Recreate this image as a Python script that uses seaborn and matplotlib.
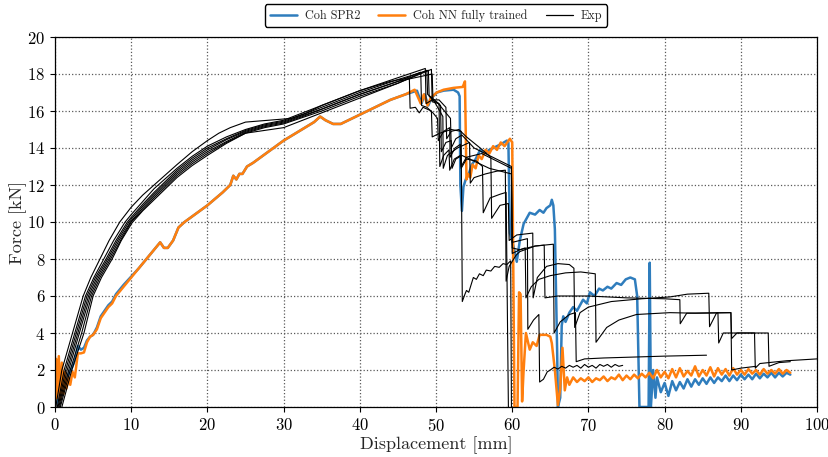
import matplotlib
matplotlib.use("Agg")
import matplotlib.pyplot as plt
import seaborn as sns
from matplotlib.lines import Line2D

# ---------------- data ----------------
x_ticks = [0, 10, 20, 30, 40, 50, 60, 70, 80, 90, 100]
y_ticks = [0, 2, 4, 6, 8, 10, 12, 14, 16, 18, 20]
legend_labels = ["Coh SPR2", "Coh NN fully trained", "Exp"]

orange_main = [(0, 0), (0.15, 2.6), (0.3, 0.5), (0.5, 2.75), (0.7, 0.4), (0.9, 2.4), (1.1, 0.7), (1.3, 1.9),
               (1.5, 1.0), (1.8, 1.6), (2.0, 1.2), (2.3, 1.9), (2.6, 1.6), (3.0, 2.9), (3.4, 2.9), (3.8, 2.95),
               (4.2, 3.5), (4.6, 3.8), (5.0, 3.9), (5.5, 4.2), (6.0, 4.8), (6.5, 5.1), (7.0, 5.4), (7.5, 5.6),
               (8.0, 6.0), (9.0, 6.5), (10, 7.0), (11, 7.5), (12, 8.0), (13, 8.5), (13.8, 8.9), (14.3, 8.6),
               (14.8, 8.6), (15.5, 9.0), (16.2, 9.7), (17, 10.0), (18, 10.3), (20, 10.9), (22, 11.6), (23, 12.0),
               (23.4, 12.5), (23.8, 12.3), (24.2, 12.6), (24.6, 12.6), (25.2, 13.0), (26, 13.2), (28, 13.8),
               (30, 14.4), (32, 14.9), (34, 15.4), (34.8, 15.7), (35.5, 15.5), (36.5, 15.3), (37.5, 15.3),
               (40, 15.8), (42, 16.2), (44, 16.6), (46, 16.9), (47.2, 17.15), (48.0, 16.4), (48.4, 16.9),
               (48.9, 16.3), (49.3, 16.7), (50.1, 17.0), (51, 17.15), (52.3, 17.25), (53.5, 17.3), (53.8, 17.6),
               (54.0, 12.3), (54.2, 12.6), (54.5, 12.4), (54.8, 13.1), (55.2, 12.9), (55.6, 13.6), (56.0, 13.4),
               (56.5, 13.9), (57.0, 13.7), (57.5, 14.1), (58.0, 13.9), (58.5, 14.3), (59.0, 14.1), (59.7, 14.5),
               (60.0, 14.3), (60.3, 0.0), (60.7, 0.0), (60.9, 6.2), (61.1, 6.1), (61.3, 0.3), (61.5, 2.0),
               (61.8, 4.0), (62.3, 3.1), (62.7, 3.5), (63.2, 3.3), (63.6, 3.9), (64.5, 3.9), (65.0, 3.8),
               (65.2, 3.45), (65.6, 2.0), (66.0, 0.1), (66.3, 1.0), (66.6, 3.2), (66.9, 0.9), (67.2, 1.6)]
orange_tail_x = [67.5 + 0.5 * i for i in range(59)]
orange_tail_y = [1.2, 1.6, 1.35, 1.55, 1.4, 1.6, 1.35, 1.55, 1.45, 1.65, 1.4, 1.6, 1.5, 1.75, 1.45, 1.7,
                 1.5, 1.75, 1.55, 1.8, 1.6, 1.85, 1.55, 2.0, 1.6, 1.9, 1.55, 2.05, 1.6, 2.1, 1.65, 1.95,
                 1.7, 2.2, 1.65, 2.0, 1.7, 2.15, 1.65, 2.1, 1.75, 2.05, 1.7, 2.1, 1.75, 2.0, 1.75, 2.05,
                 1.8, 2.0, 1.75, 2.05, 1.8, 2.0, 1.8, 2.05, 1.8, 2.0, 1.85]

blue_main = [(0, 0), (0.3, 0.3), (0.6, 0.8), (1.0, 1.2), (1.4, 1.4), (1.8, 1.8), (2.2, 2.1), (2.6, 2.5),
             (3.0, 3.3), (3.4, 3.1), (3.8, 3.2), (4.2, 3.6), (4.6, 3.8), (5.0, 3.9), (5.5, 4.3), (6.0, 4.9),
             (6.5, 5.2), (7.0, 5.5), (7.5, 5.7), (8.0, 6.1), (9, 6.6), (10, 7.05), (11, 7.5), (12, 8.0),
             (13, 8.5), (13.8, 8.9), (14.3, 8.6), (14.8, 8.6), (15.5, 9.0), (16.2, 9.7), (17, 10.0),
             (18, 10.3), (20, 10.9), (22, 11.6), (23, 12.0), (23.4, 12.5), (23.8, 12.3), (24.2, 12.6),
             (24.6, 12.6), (25.2, 13.0), (26, 13.2), (28, 13.8), (30, 14.4), (32, 14.9), (34, 15.4),
             (34.8, 15.7), (35.5, 15.5), (36.5, 15.3), (37.5, 15.3), (40, 15.8), (42, 16.2), (44, 16.6),
             (46, 16.9), (47.5, 17.1), (48.1, 16.4), (48.5, 16.9), (49.0, 16.3), (49.4, 16.7), (50.1, 17.0),
             (51, 17.1), (52.3, 17.15), (52.9, 17.0), (53.1, 16.8), (53.2, 12.0), (53.4, 10.6), (53.6, 11.9),
             (53.9, 12.3), (54.3, 12.6), (54.7, 13.1), (55.2, 13.4), (55.8, 13.9), (56.3, 13.7), (57, 13.9),
             (57.5, 14.0), (58, 14.1), (58.5, 14.2), (59.3, 14.4), (59.5, 14.3), (59.7, 9.4), (60.0, 9.0),
             (60.6, 7.85), (61.0, 9.0), (61.5, 9.9), (62.3, 10.5), (63.0, 10.4), (63.6, 10.65), (64.1, 10.5),
             (64.5, 10.75), (65.0, 10.9), (65.2, 11.2), (65.4, 10.9), (65.6, 9.6), (65.9, 3.0), (66.0, 0.0),
             (66.3, 0.5), (66.5, 4.4), (66.7, 4.9), (67.0, 4.6), (67.5, 5.1), (68.0, 5.4), (68.5, 5.2),
             (69.3, 5.8), (69.8, 5.6), (70.2, 6.2), (70.8, 6.0), (71.4, 6.4), (71.9, 6.3), (72.5, 6.5),
             (73.0, 6.4), (73.7, 6.7), (74.3, 6.6), (74.9, 6.9), (75.5, 7.0), (76.1, 6.9), (76.4, 6.0),
             (76.7, 0.0), (77.9, 0.0), (78.05, 7.8), (78.2, 0.0), (78.5, 2.0), (78.8, 0.5)]
blue_tail_x = [79.0 + 0.5 * i for i in range(36)]
blue_tail_y = [1.6, 0.8, 1.3, 0.6, 1.4, 0.9, 1.35, 1.0, 1.5, 1.1, 1.5, 1.2, 1.55, 1.25, 1.6, 1.3,
               1.6, 1.4, 1.7, 1.4, 1.7, 1.45, 1.75, 1.5, 1.75, 1.5, 1.8, 1.55, 1.8, 1.6, 1.85, 1.6,
               1.85, 1.65, 1.85, 1.75]

exp1 = [(0.1, 0), (0.5, 1.0), (0.9, 2.0), (1.6, 3.0), (2.3, 4.0), (3.0, 5.0), (3.7, 6.0), (4.7, 7.0),
        (5.9, 8.0), (7.1, 9.0), (8.5, 10.0), (10, 10.8), (11.5, 11.45), (13, 12.0), (14.5, 12.55),
        (16, 13.1), (18, 13.8), (20, 14.4), (21.5, 14.8), (23, 15.1), (25, 15.4), (28, 15.5), (31, 15.6),
        (33, 15.9), (35, 16.3), (37.5, 16.7), (40, 17.1), (42, 17.35), (44, 17.6), (46.5, 17.8),
        (46.6, 16.15), (47.3, 16.2), (47.8, 15.9), (48.3, 16.2), (49.4, 16.0),
        (49.5, 14.6), (50.5, 14.8), (52.0, 15.0), (53.3, 14.9), (53.45, 5.7), (53.8, 6.1), (54.0, 6.3),
        (54.3, 6.2), (54.6, 6.6), (54.9, 7.0), (55.3, 6.9), (55.7, 7.2), (56.2, 7.1), (56.6, 7.4),
        (57.2, 7.35), (57.7, 7.6), (58.3, 7.55), (58.8, 7.75), (59.3, 7.7), (59.8, 7.9), (59.9, 0.0)]
exp2 = [(0.3, 0), (0.75, 1.0), (1.2, 2.0), (1.9, 3.0), (2.6, 4.0), (3.3, 5.0), (4.0, 6.0), (5.1, 7.0),
        (6.4, 8.0), (7.7, 9.0), (9.2, 10.0), (10, 10.4), (11.5, 11.1), (13, 11.8), (14.5, 12.35),
        (16, 12.9), (18, 13.55), (20, 14.1), (22.5, 14.6), (25, 15.0), (27.5, 15.3), (30, 15.5),
        (32.5, 15.9), (35, 16.3), (37.5, 16.7), (40, 17.1), (42.5, 17.45), (45, 17.8), (48.6, 18.3),
        (48.7, 16.4), (49.5, 16.6), (50.4, 16.4), (50.5, 13.0), (51.0, 13.6), (51.7, 13.9), (51.8, 12.8),
        (52.4, 13.4), (53.2, 13.6), (53.3, 12.9), (54.0, 13.4), (55.3, 13.3), (56.1, 13.0), (56.2, 10.5),
        (57.1, 11.3), (58.4, 11.5), (59.2, 11.6), (59.5, 0.0)]
exp3 = [(0.4, 0), (0.9, 1.0), (1.4, 2.0), (2.1, 3.0), (2.8, 4.0), (3.5, 5.0), (4.2, 6.0), (5.3, 7.0),
        (6.7, 8.0), (8.0, 9.0), (9.5, 10.0), (10, 10.25), (11.5, 10.95), (13, 11.6), (14.5, 12.2),
        (16, 12.8), (18, 13.45), (20, 14.0), (22.5, 14.5), (25, 14.95), (27.5, 15.25), (30, 15.45),
        (32.5, 15.8), (35, 16.2), (37.5, 16.6), (40, 17.0), (42.5, 17.35), (45, 17.7), (49.0, 18.2),
        (49.1, 16.8), (49.8, 16.5), (50.9, 15.7), (50.95, 12.9), (51.5, 13.6), (52.8, 14.0), (54.4, 14.3),
        (54.5, 12.1), (55.0, 12.4), (56.5, 12.6), (58.0, 12.75), (59.1, 12.8), (59.2, 6.8), (59.6, 7.6),
        (60.5, 8.2), (61.0, 8.4), (63.0, 8.7), (64.2, 8.75), (64.3, 5.9), (66, 6.0), (70, 6.0), (75, 5.9),
        (80, 5.85), (82, 5.8), (82.05, 4.5), (82.9, 5.07), (88.7, 5.1), (88.8, 3.7), (89.5, 4.0),
        (93.6, 4.0), (93.7, 2.2), (95, 2.4), (96.5, 2.45)]
exp4 = [(0.5, 0), (1.05, 1.0), (1.6, 2.0), (2.3, 3.0), (3.0, 4.0), (3.7, 5.0), (4.4, 6.0), (5.5, 7.0),
        (6.9, 8.0), (8.2, 9.0), (9.7, 10.0), (10, 10.15), (11.5, 10.85), (13, 11.5), (14.5, 12.1),
        (16, 12.7), (18, 13.35), (20, 13.9), (22.5, 14.45), (25, 14.9), (27.5, 15.2), (30, 15.4),
        (32.5, 15.75), (35, 16.1), (37.5, 16.5), (40, 16.9), (42.5, 17.25), (45, 17.6), (49.5, 18.0),
        (49.6, 16.6), (50.4, 16.6), (51.3, 16.2), (51.4, 14.5), (52.0, 14.9), (53.0, 15.0), (54.0, 14.6),
        (55.8, 14.0), (57.2, 13.5), (57.3, 10.2), (58.4, 10.9), (59.5, 11.0), (59.6, 9.0), (60.6, 9.3),
        (62.7, 9.4), (62.75, 5.9), (63.3, 7.0), (64.5, 7.6), (66, 7.75), (67.5, 7.7), (68.1, 7.5),
        (68.2, 4.3), (68.9, 5.1), (70, 5.4), (73, 5.7), (77, 5.85), (80.7, 5.95), (83, 6.1), (85.8, 6.15),
        (85.9, 4.34), (86.8, 5.07), (87.0, 5.1), (87.1, 3.46), (87.7, 4.0), (91.8, 4.0), (91.9, 2.1),
        (92.5, 2.35), (96, 2.5), (100, 2.6)]
exp5 = [(0.6, 0), (1.2, 1.0), (1.8, 2.0), (2.5, 3.0), (3.2, 4.0), (3.9, 5.0), (4.6, 6.0), (5.7, 7.0),
        (7.1, 8.0), (8.4, 9.0), (9.9, 10.0), (11.5, 10.75), (13, 11.4), (14.5, 12.0), (16, 12.6),
        (18, 13.25), (20, 13.8), (22.5, 14.35), (25, 14.85), (27.5, 15.15), (30, 15.35), (32.5, 15.7),
        (35, 16.1), (37.5, 16.5), (40, 16.9), (42.5, 17.25), (45, 17.6), (48.0, 18.1),
        (48.1, 16.3), (48.8, 16.2), (49.6, 15.9), (50.2, 15.6), (50.3, 14.4), (51.0, 14.9), (51.8, 15.1),
        (51.85, 13.5), (52.5, 14.0), (53.2, 14.2), (53.3, 13.0), (54.0, 13.5), (56.0, 13.7), (59.9, 12.9),
        (60.0, 8.6), (61.0, 8.5), (61.7, 8.6), (61.8, 5.9), (62.5, 6.5), (63.5, 6.9), (65, 7.1),
        (67, 7.25), (69, 7.3), (70.9, 7.2), (71.0, 3.5), (72.4, 4.3), (74, 4.7), (76.3, 5.0), (80.7, 5.1),
        (84, 5.07), (88.7, 5.1), (88.8, 2.0), (90, 2.1), (92, 2.2)]
exp6 = [(0.7, 0), (1.35, 1.0), (2.0, 2.0), (2.75, 3.0), (3.5, 4.0), (4.15, 5.0), (4.8, 6.0), (5.9, 7.0),
        (7.3, 8.0), (8.6, 9.0), (10.0, 10.0), (11.5, 10.65), (13, 11.3), (14.5, 11.9), (16, 12.5),
        (18, 13.15), (20, 13.7), (22.5, 14.3), (25, 14.8), (27.5, 15.1), (30, 15.3), (32.5, 15.65),
        (35, 16.0), (37.5, 16.4), (40, 16.8), (42.5, 17.15), (45, 17.5), (48.8, 18.2),
        (48.9, 16.9), (49.8, 16.6), (50.6, 16.3), (50.7, 13.8), (51.3, 14.3), (52.0, 14.4), (52.1, 12.9),
        (52.6, 13.4), (53.4, 13.6), (57.0, 12.9), (59.9, 12.6), (60.0, 8.9), (61.0, 9.0), (62.0, 9.1),
        (62.05, 4.2), (62.8, 4.7), (63.5, 5.0), (63.6, 1.35), (64.1, 1.5), (64.6, 1.9), (65, 2.0),
        (65.5, 2.15), (66.0, 2.05), (66.5, 2.2), (67, 2.1), (67.5, 2.25), (68, 2.15), (68.5, 2.25),
        (69, 2.1), (69.5, 2.3), (70, 2.15), (70.5, 2.25), (71, 2.1), (71.5, 2.3), (72, 2.2), (72.5, 2.3),
        (73, 2.15), (73.5, 2.3), (74, 2.2), (74.5, 2.25)]
exp7 = [(0.9, 0), (1.55, 1.0), (2.2, 2.0), (3.0, 3.0), (3.8, 4.0), (4.4, 5.0), (5.0, 6.0), (6.1, 7.0),
        (7.5, 8.0), (8.7, 9.0), (10.1, 9.95), (11.5, 10.6), (13, 11.2), (14.5, 11.8), (16, 12.4),
        (18, 13.05), (20, 13.6), (22.5, 14.25), (25, 14.8), (27.5, 14.95), (30, 15.1), (32.5, 15.5),
        (35, 15.9), (37.5, 16.3), (40, 16.7), (42.5, 17.1), (45, 17.5), (49.4, 18.25),
        (49.5, 16.5), (50.3, 16.4), (51.9, 15.6), (52.0, 14.0), (52.6, 14.5), (53.4, 14.7), (55.0, 14.0),
        (59.9, 13.0), (60.0, 8.3), (61, 8.5), (63, 8.7), (65.4, 8.8), (65.5, 4.0), (66.3, 4.6), (67.5, 5.0),
        (68.3, 5.1), (68.4, 2.45), (69.5, 2.6), (72, 2.65), (76, 2.7), (80, 2.75), (85.5, 2.8)]

# ---------------- styling ----------------
sns.set_style("ticks")
plt.rcParams["font.family"] = "serif"
plt.rcParams["font.serif"] = ["cmr10", "DejaVu Serif"]
plt.rcParams["mathtext.fontset"] = "cm"
plt.rcParams["axes.formatter.use_mathtext"] = True

BLUE = "#2f7dbd"
ORANGE = "#ff7f0e"

fig = plt.figure(figsize=(8.29, 4.57), dpi=100)
ax = fig.add_axes([55 / 829, 1 - 407 / 457, (817 - 55) / 829, (407 - 37) / 457])


def draw(points, color, lw, extra_x=None, extra_y=None):
    xs = [p[0] for p in points] + (extra_x or [])
    ys = [p[1] for p in points] + (extra_y or [])
    sns.lineplot(x=xs, y=ys, sort=False, estimator=None, color=color, lw=lw, ax=ax)


draw(blue_main, BLUE, 1.8, blue_tail_x, blue_tail_y)
draw(orange_main, ORANGE, 1.8, orange_tail_x, orange_tail_y)
for curve in (exp1, exp2, exp3, exp4, exp5, exp6, exp7):
    draw(curve, "black", 0.8)

ax.set_xlim(0, 100)
ax.set_ylim(0, 20)
ax.set_xticks(x_ticks)
ax.set_yticks(y_ticks)
ax.tick_params(labelsize=12, direction="out", length=3.5, width=0.8, colors="black")
ax.grid(True, linestyle=":", color="0.35", linewidth=0.9)
for s in ax.spines.values():
    s.set_visible(True)
    s.set_color("black")
    s.set_linewidth(0.9)
ax.set_xlabel("Displacement [mm]", fontsize=13, labelpad=2)
ax.set_ylabel("Force [kN]", fontsize=13, labelpad=0)

handles = [Line2D([], [], color=BLUE, lw=1.8), Line2D([], [], color=ORANGE, lw=1.8),
           Line2D([], [], color="black", lw=0.9)]
leg = ax.legend(handles, legend_labels, loc="lower center", bbox_to_anchor=(0.5, 1.011), ncol=3,
                fontsize=8.8, frameon=True, fancybox=True, edgecolor="black", framealpha=1,
                borderpad=0.4, handlelength=2.2, columnspacing=1.5, handletextpad=0.65)
leg.get_frame().set_linewidth(1.0)

fig.savefig("out.png", dpi=100)
